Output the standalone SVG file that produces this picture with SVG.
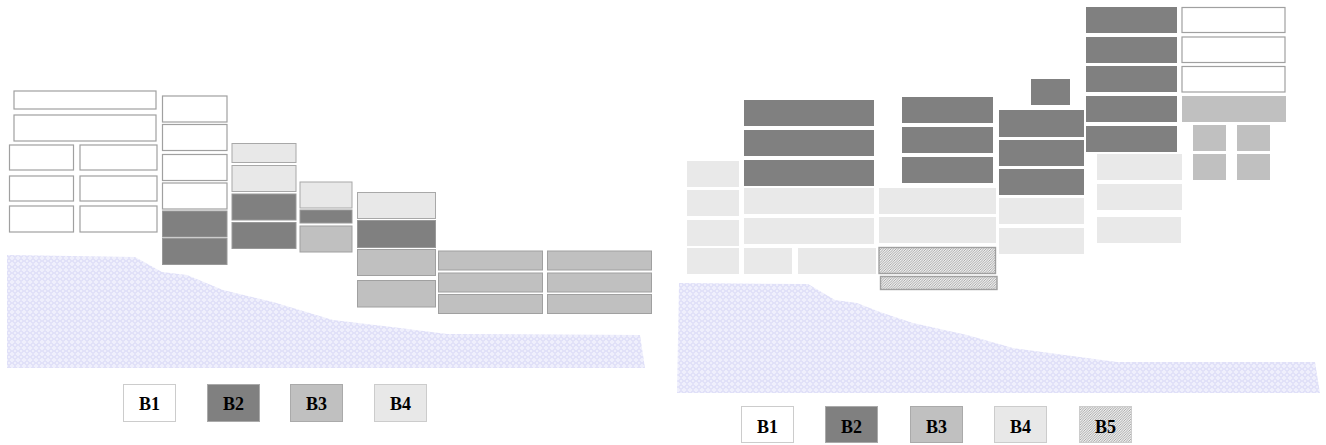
<svg xmlns="http://www.w3.org/2000/svg" width="1326" height="445" viewBox="0 0 1326 445">
<style>
.b1{fill:#ffffff;stroke:#a0a0a0;stroke-width:1.2}
.b2{fill:#808080;stroke:#999999;stroke-width:1}
.b3{fill:#c0c0c0;stroke:#a0a0a0;stroke-width:1}
.b4{fill:#e8e8e8;stroke:#a8a8a8;stroke-width:1}
.r2{fill:#808080}
.r3{fill:#c0c0c0}
.r4{fill:#e9e9e9}
.b5{fill:url(#hatch);stroke:#a0a0a0;stroke-width:1.4}
.terrain{fill:url(#dots)}
.lg1{fill:#ffffff;stroke:#cccccc;stroke-width:1}
.lg2{fill:#808080;stroke:#aaaaaa;stroke-width:1}
.lg3{fill:#c0c0c0;stroke:#aaaaaa;stroke-width:1}
.lg4{fill:#e8e8e8;stroke:#cccccc;stroke-width:1}
.lg5{fill:url(#hatch);stroke:#cccccc;stroke-width:1}
.lt{font-family:"Liberation Serif",serif;font-weight:bold;font-size:18px;fill:#000;text-anchor:middle}
</style>
<defs>
<pattern id="dots" width="6" height="6" patternUnits="userSpaceOnUse">
<rect width="6" height="6" fill="#efeffc"/>
<path d="M3 0.5 L5.5 3 L3 5.5 L0.5 3 Z" fill="none" stroke="#cfcff4" stroke-width="0.9"/>
</pattern>
<pattern id="hatch" width="2.5" height="2.5" patternUnits="userSpaceOnUse">
<rect width="2.5" height="2.5" fill="#eeeeee"/>
<path d="M0 2.5 L2.5 0 M-1 1 L1 -1 M1.5 3.5 L3.5 1.5" stroke="#9a9a9a" stroke-width="0.8"/>
</pattern>
</defs>

<g id="terrain-left"><path class="terrain" d="M7 255 L135 257 L162 272 L187 275 L223 290 L273 302 L333 320 L400 328 L447 334 L640 335 L645 368 L7 368 Z"/></g>
<g id="terrain-right"><path class="terrain" d="M679 283 L808 284 L835 300 L857 303 L880 312 L913 323 L967 335 L1013 348 L1117 362 L1315 362 L1320 393 L677 393 Z"/></g>

<g id="left-blocks">
<g id="L-c1">
<rect class="b1" x="14" y="91" width="142" height="18"/>
<rect class="b1" x="14" y="115" width="142" height="26"/>
<rect class="b1" x="9.5" y="145" width="64" height="25"/>
<rect class="b1" x="80" y="145" width="77" height="25"/>
<rect class="b1" x="9.5" y="176" width="64" height="25"/>
<rect class="b1" x="80" y="176" width="77" height="25"/>
<rect class="b1" x="9.5" y="206" width="64" height="26"/>
<rect class="b1" x="80" y="206" width="77" height="26"/>
</g>
<g id="L-c2">
<rect class="b1" x="162.5" y="96" width="64.5" height="26"/>
<rect class="b1" x="162.5" y="124.5" width="64.5" height="26"/>
<rect class="b1" x="162.5" y="154.5" width="64.5" height="26"/>
<rect class="b1" x="162.5" y="183" width="64.5" height="26"/>
<rect class="b2" x="162.5" y="211" width="64.5" height="26"/>
<rect class="b2" x="162.5" y="238.5" width="64.5" height="26"/>
</g>
<g id="L-c3">
<rect class="b4" x="232" y="143.5" width="64" height="19"/>
<rect class="b4" x="232" y="165.5" width="64" height="26"/>
<rect class="b2" x="232" y="194" width="64" height="26"/>
<rect class="b2" x="232" y="222.5" width="64" height="26"/>
</g>
<g id="L-c4">
<rect class="b4" x="300" y="182" width="52" height="26"/>
<rect class="b2" x="300" y="210" width="52" height="13"/>
<rect class="b3" x="300" y="226" width="52" height="26"/>
</g>
<g id="L-c5">
<rect class="b4" x="357.5" y="192.5" width="78" height="26"/>
<rect class="b2" x="357.5" y="220.5" width="78" height="27"/>
<rect class="b3" x="357.5" y="249.5" width="78" height="26"/>
<rect class="b3" x="357.5" y="280.5" width="78" height="26.5"/>
</g>
<g id="L-c6">
<rect class="b3" x="438.5" y="251" width="104" height="19"/>
<rect class="b3" x="438.5" y="273" width="104" height="19"/>
<rect class="b3" x="438.5" y="294.5" width="104" height="19"/>
<rect class="b3" x="547.5" y="251" width="104" height="19"/>
<rect class="b3" x="547.5" y="273" width="104" height="19"/>
<rect class="b3" x="547.5" y="294.5" width="104" height="19"/>
</g>
</g>

<g id="right-blocks">
<g id="R-c1">
<rect class="r4" x="687" y="161" width="52" height="26"/>
<rect class="r4" x="687" y="190" width="52" height="26"/>
<rect class="r4" x="687" y="220" width="52" height="26"/>
<rect class="r4" x="687" y="248" width="52" height="26"/>
</g>
<g id="R-c2">
<rect class="r2" x="744" y="100" width="130" height="26"/>
<rect class="r2" x="744" y="130" width="130" height="26"/>
<rect class="r2" x="744" y="160" width="130" height="26"/>
<rect class="r4" x="744" y="188" width="130" height="26"/>
<rect class="r4" x="744" y="218" width="130" height="26"/>
<rect class="r4" x="744" y="248" width="48" height="26"/>
<rect class="r4" x="798" y="248" width="78" height="26"/>
</g>
<g id="R-c3">
<rect class="r2" x="902" y="97" width="91" height="26"/>
<rect class="r2" x="902" y="127" width="91" height="26"/>
<rect class="r2" x="902" y="157" width="91" height="26"/>
<rect class="r4" x="879" y="188" width="117" height="26"/>
<rect class="r4" x="879" y="217" width="117" height="26"/>
<rect class="b5" x="879" y="247.5" width="116.5" height="26"/>
<rect class="b5" x="880.5" y="276.5" width="116.5" height="13"/>
</g>
<g id="R-c4">
<rect class="r2" x="1031" y="79" width="39" height="26"/>
<rect class="r2" x="999" y="110" width="85" height="27"/>
<rect class="r2" x="999" y="140" width="85" height="26"/>
<rect class="r2" x="999" y="169" width="85" height="26"/>
<rect class="r4" x="999" y="198" width="85" height="26"/>
<rect class="r4" x="999" y="228" width="85" height="26"/>
</g>
<g id="R-c5">
<rect class="r2" x="1086" y="7" width="91" height="26"/>
<rect class="r2" x="1086" y="37" width="91" height="26"/>
<rect class="r2" x="1086" y="66" width="91" height="26"/>
<rect class="r2" x="1086" y="96" width="91" height="26"/>
<rect class="r2" x="1086" y="126" width="91" height="26"/>
<rect class="r4" x="1097" y="154" width="85" height="26"/>
<rect class="r4" x="1097" y="184" width="85" height="26"/>
<rect class="r4" x="1097" y="217" width="84" height="26"/>
</g>
<g id="R-c6">
<rect class="b1" x="1182" y="7.5" width="103" height="25"/>
<rect class="b1" x="1182" y="37" width="103" height="25.5"/>
<rect class="b1" x="1182" y="66.5" width="103" height="25.5"/>
<rect class="r3" x="1182" y="96" width="104" height="26"/>
<rect class="r3" x="1193" y="125" width="33" height="26"/>
<rect class="r3" x="1237" y="125" width="33" height="26"/>
<rect class="r3" x="1193" y="154" width="33" height="26"/>
<rect class="r3" x="1237" y="154" width="33" height="26"/>
</g>
</g>

<g id="legend-left">
<g id="LL-B1"><rect class="lg1" x="123.5" y="384.5" width="52" height="37"/><text class="lt" x="149.5" y="409.5">B1</text></g>
<g id="LL-B2"><rect class="lg2" x="207.5" y="384.5" width="52" height="37"/><text class="lt" x="233.5" y="409.5">B2</text></g>
<g id="LL-B3"><rect class="lg3" x="290.5" y="384.5" width="52" height="37"/><text class="lt" x="316.5" y="409.5">B3</text></g>
<g id="LL-B4"><rect class="lg4" x="374.5" y="384.5" width="52" height="37"/><text class="lt" x="400.5" y="409.5">B4</text></g>
</g>
<g id="legend-right">
<g id="RL-B1"><rect class="lg1" x="741.5" y="406.5" width="52" height="36"/><text class="lt" x="767.5" y="432.5">B1</text></g>
<g id="RL-B2"><rect class="lg2" x="825.5" y="406.5" width="52" height="36"/><text class="lt" x="851.5" y="432.5">B2</text></g>
<g id="RL-B3"><rect class="lg3" x="910.5" y="406.5" width="52" height="36"/><text class="lt" x="936.5" y="432.5">B3</text></g>
<g id="RL-B4"><rect class="lg4" x="994.5" y="406.5" width="52" height="36"/><text class="lt" x="1020.5" y="432.5">B4</text></g>
<g id="RL-B5"><rect class="lg5" x="1079.5" y="406.5" width="52" height="36"/><text class="lt" x="1105.5" y="432.5">B5</text></g>
</g>
</svg>
